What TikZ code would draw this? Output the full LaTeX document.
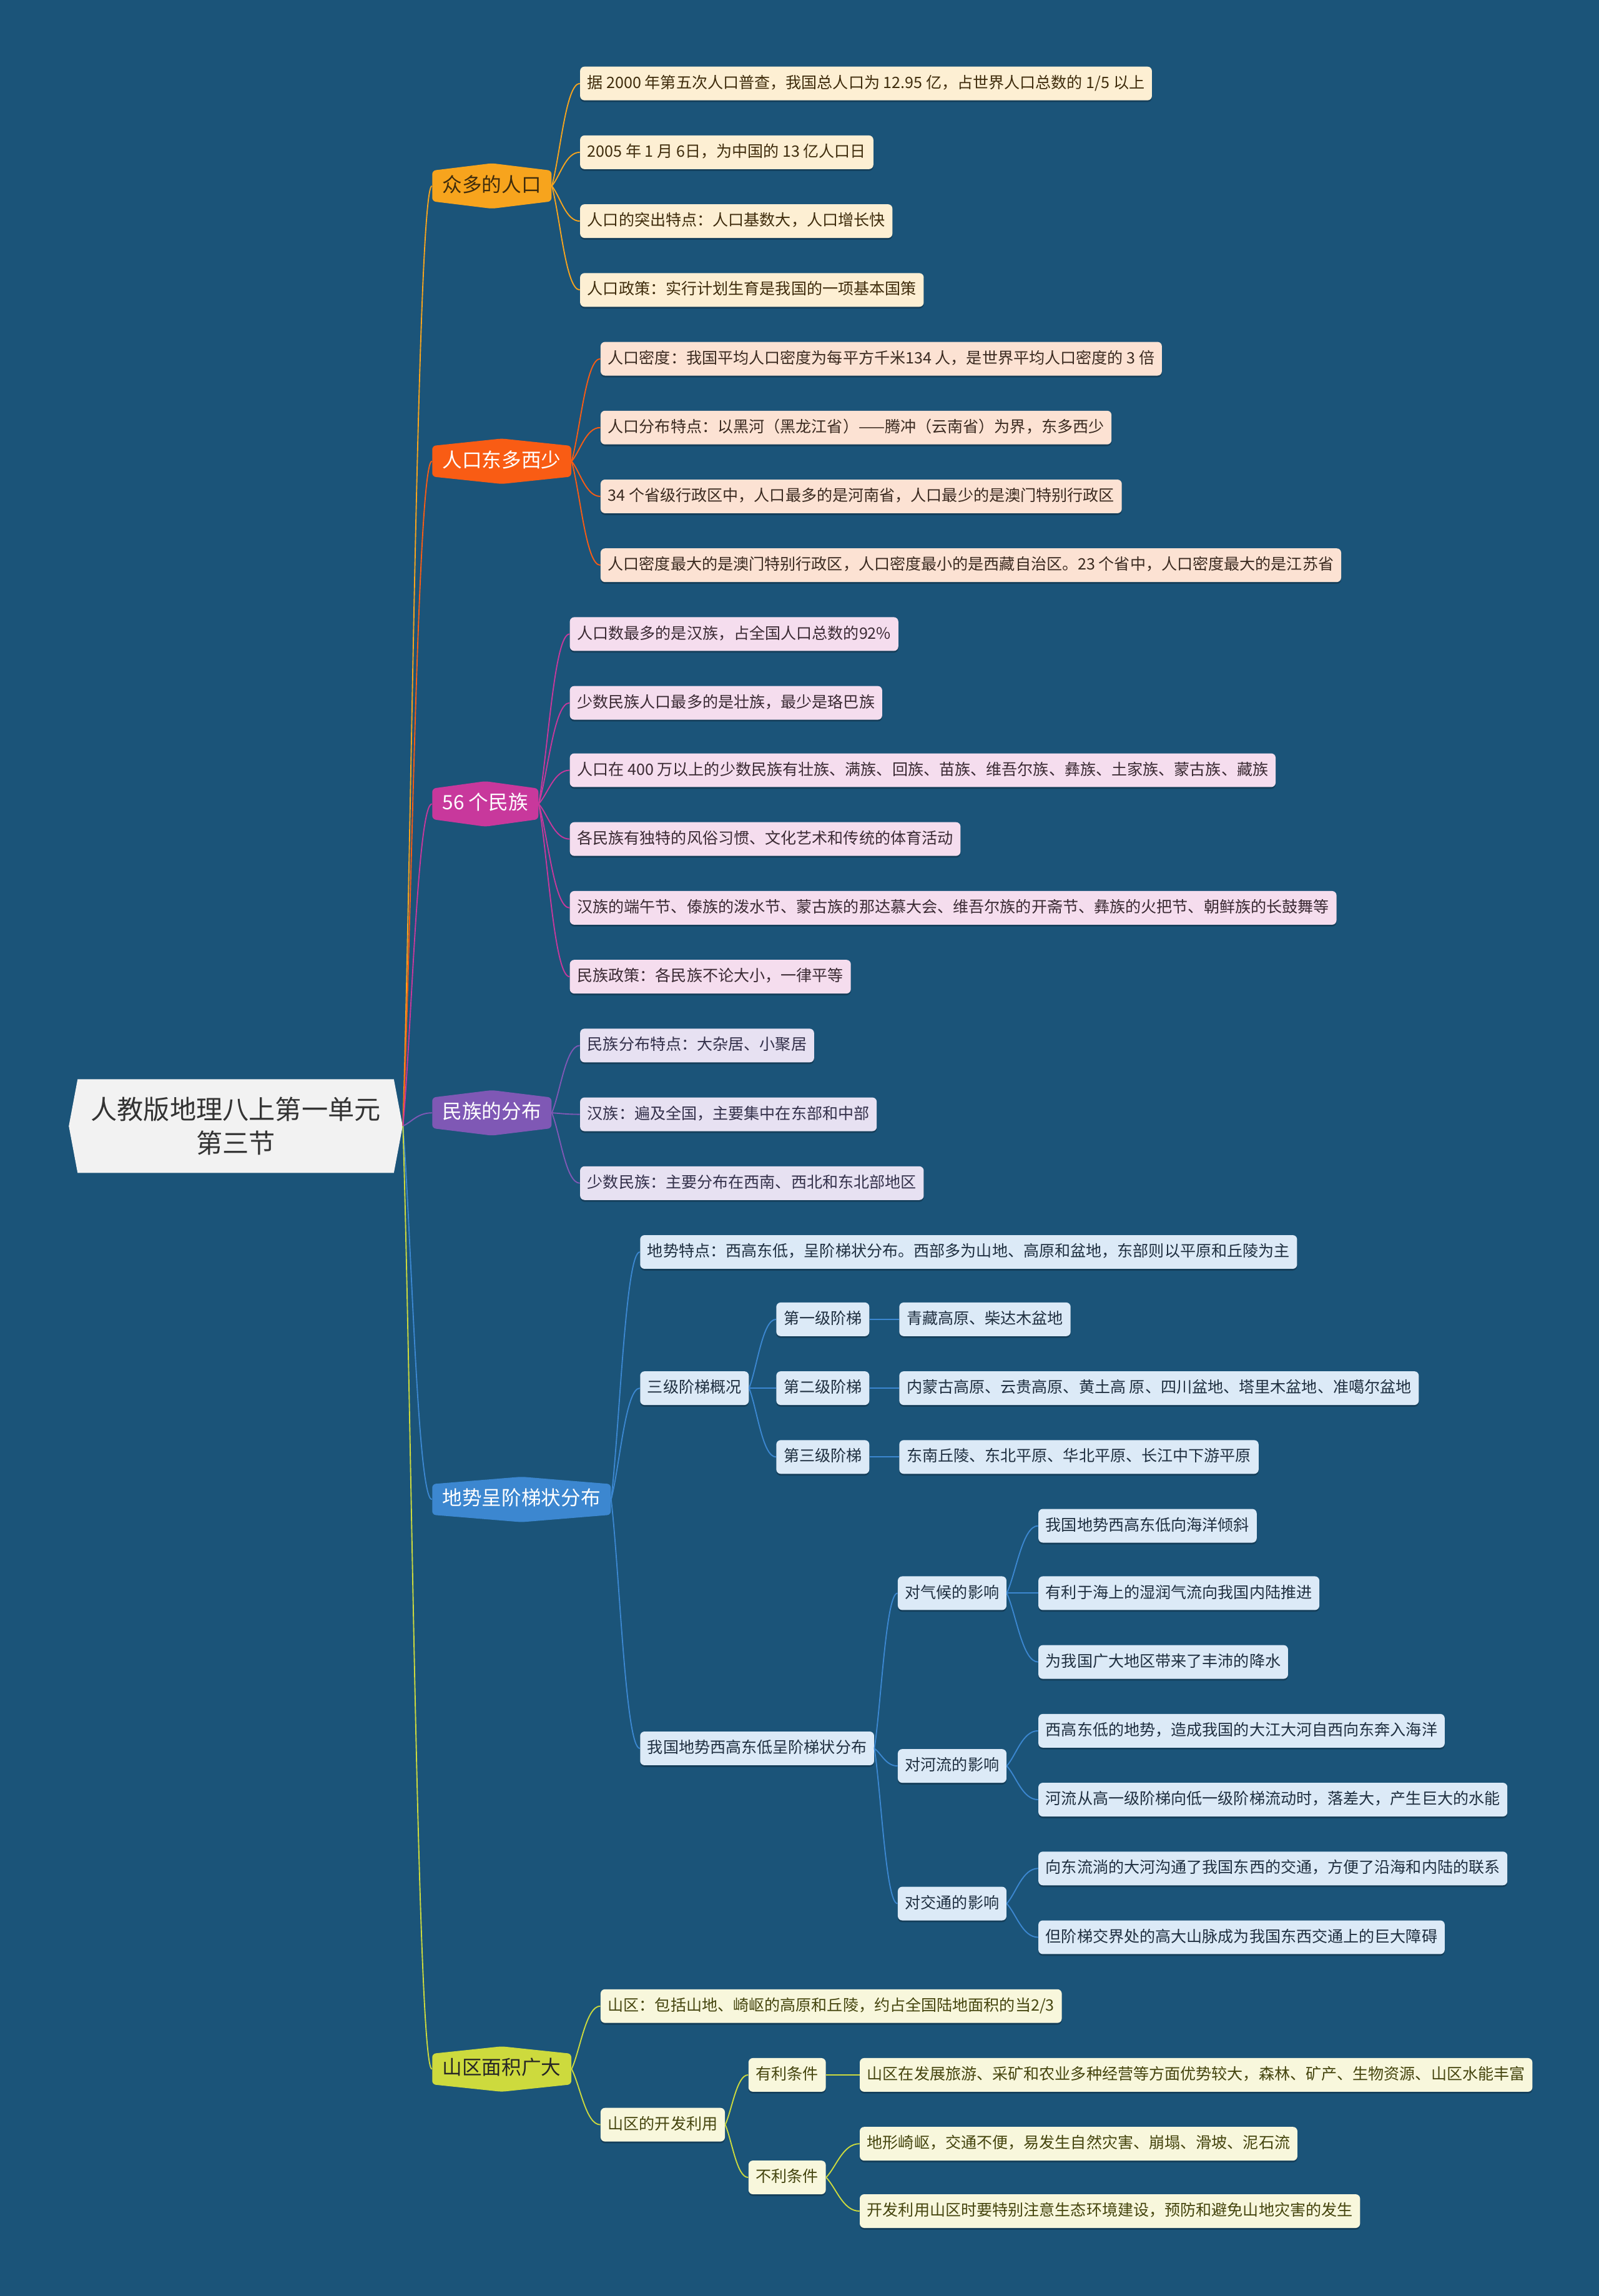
\documentclass[tikz,border=0pt]{standalone}
\usepackage{fontspec}
\setmainfont{Noto Sans CJK SC}
\usetikzlibrary{calc, shadows}
\definecolor{bgc}{HTML}{1B5479}
\definecolor{rootc}{HTML}{F2F2F2}
\definecolor{cA}{HTML}{F7A41D}\definecolor{lA}{HTML}{FDEFD3}\definecolor{tA}{HTML}{3F2C0C}
\definecolor{cB}{HTML}{F95C14}\definecolor{lB}{HTML}{FCE2D3}\definecolor{tB}{HTML}{3A2A20}
\definecolor{cC}{HTML}{C8389C}\definecolor{lC}{HTML}{F5DDEE}\definecolor{tC}{HTML}{3A2A33}
\definecolor{cD}{HTML}{7F58B5}\definecolor{lD}{HTML}{E7E1F2}\definecolor{tD}{HTML}{33304A}
\definecolor{cE}{HTML}{3C87D0}\definecolor{lE}{HTML}{DCEAF7}\definecolor{tE}{HTML}{1F2F40}
\definecolor{cF}{HTML}{CDDA3D}\definecolor{lF}{HTML}{F8F7DC}\definecolor{tF}{HTML}{45450E}

\begin{document}
\begin{tikzpicture}[x=1pt, y={(0,-1pt)},
  link/.style={to path={.. controls ($(\tikztostart)!0.3!(\tikztotarget)$) and ($(\tikztostart |- \tikztotarget)!0.5!(\tikztotarget)$) .. (\tikztotarget)}},
  leaf/.style={anchor=west, rounded corners=3pt, inner xsep=5pt, inner ysep=0pt, minimum height=23pt,
    text height=8.5pt, text depth=2pt, font=\fontsize{10.7}{12}\selectfont,
    drop shadow={shadow xshift=0pt, shadow yshift=-1.2pt, fill=black, opacity=.25}},
  hexa/.style={anchor=west, inner xsep=7pt, inner ysep=0pt, minimum height=31pt, text height=10.5pt, text depth=2.5pt,
    font=\fontsize{13.5}{15}\selectfont,
    path picture={\fill[#1, rounded corners=2.5pt] ([yshift=-5pt]path picture bounding box.north west)
      -- (path picture bounding box.north) -- ([yshift=-5pt]path picture bounding box.north east)
      -- ([yshift=5pt]path picture bounding box.south east) -- (path picture bounding box.south)
      -- ([yshift=5pt]path picture bounding box.south west) -- cycle;}},
  lfA/.style={leaf, fill=lA, text=tA}, lfB/.style={leaf, fill=lB, text=tB},
  lfC/.style={leaf, fill=lC, text=tC}, lfD/.style={leaf, fill=lD, text=tD},
  lfE/.style={leaf, fill=lE, text=tE}, lfF/.style={leaf, fill=lF, text=tF}]

\fill[bgc] (0,0) rectangle (1092,1568);
\useasboundingbox (0,0) rectangle (1092,1568);

\node[minimum width=228pt, minimum height=64pt, inner sep=0pt, align=center, text=black!80,
  font=\fontsize{18}{23}\selectfont,
  path picture={\fill[rootc] ([xshift=6pt]path picture bounding box.north west)
    -- ([xshift=-6pt]path picture bounding box.north east) -- (path picture bounding box.east)
    -- ([xshift=-6pt]path picture bounding box.south east) -- ([xshift=6pt]path picture bounding box.south west)
    -- (path picture bounding box.west) -- cycle;}] (root) at (161,769) {人教版地理八上第一单元\\第三节};

\node[hexa=cA, text=tA] (m1) at (295,127) {众多的人口};
\node[hexa=cB, text=white] (m2) at (295,315) {人口东多西少};
\node[hexa=cC, text=white] (m3) at (295,549) {56 个民族};
\node[hexa=cD, text=white] (m4) at (295,760) {民族的分布};
\node[hexa=cE, text=white] (m5) at (295,1024) {地势呈阶梯状分布};
\node[hexa=cF, text=black!85] (m6) at (295,1413) {山区面积广大};

\node[lfA] (a1) at (396,57) {据 2000 年第五次人口普查，我国总人口为 12.95 亿，占世界人口总数的 1/5 以上};
\node[lfA] (a2) at (396,104) {2005 年 1 月 6日，为中国的 13 亿人口日};
\node[lfA] (a3) at (396,151) {人口的突出特点：人口基数大，人口增长快};
\node[lfA] (a4) at (396,198) {人口政策：实行计划生育是我国的一项基本国策};

\node[lfB] (b1) at (410,245) {人口密度：我国平均人口密度为每平方千米134 人，是世界平均人口密度的 3 倍};
\node[lfB] (b2) at (410,292) {人口分布特点：以黑河（黑龙江省）——腾冲（云南省）为界，东多西少};
\node[lfB] (b3) at (410,339) {34 个省级行政区中，人口最多的是河南省，人口最少的是澳门特别行政区};
\node[lfB] (b4) at (410,386) {人口密度最大的是澳门特别行政区，人口密度最小的是西藏自治区。23 个省中，人口密度最大的是江苏省};

\node[lfC] (c1) at (389,433) {人口数最多的是汉族，占全国人口总数的92\%};
\node[lfC] (c2) at (389,480) {少数民族人口最多的是壮族，最少是珞巴族};
\node[lfC] (c3) at (389,526) {人口在 400 万以上的少数民族有壮族、满族、回族、苗族、维吾尔族、彝族、土家族、蒙古族、藏族};
\node[lfC] (c4) at (389,573) {各民族有独特的风俗习惯、文化艺术和传统的体育活动};
\node[lfC] (c5) at (389,620) {汉族的端午节、傣族的泼水节、蒙古族的那达慕大会、维吾尔族的开斋节、彝族的火把节、朝鲜族的长鼓舞等};
\node[lfC] (c6) at (389,667) {民族政策：各民族不论大小，一律平等};

\node[lfD] (d1) at (396,714) {民族分布特点：大杂居、小聚居};
\node[lfD] (d2) at (396,761) {汉族：遍及全国，主要集中在东部和中部};
\node[lfD] (d3) at (396,808) {少数民族：主要分布在西南、西北和东北部地区};

\node[lfE] (e1) at (437,855) {地势特点：西高东低，呈阶梯状分布。西部多为山地、高原和盆地，东部则以平原和丘陵为主};
\node[lfE] (e2) at (437,948) {三级阶梯概况};
\node[lfE] (e21) at (530,901) {第一级阶梯};
\node[lfE] (e22) at (530,948) {第二级阶梯};
\node[lfE] (e23) at (530,995) {第三级阶梯};
\node[lfE] (e21a) at (614,901) {青藏高原、柴达木盆地};
\node[lfE] (e22a) at (614,948) {内蒙古高原、云贵高原、黄土高 原、四川盆地、塔里木盆地、准噶尔盆地};
\node[lfE] (e23a) at (614,995) {东南丘陵、东北平原、华北平原、长江中下游平原};
\node[lfE] (e3) at (437,1194) {我国地势西高东低呈阶梯状分布};
\node[lfE] (e31) at (613,1088) {对气候的影响};
\node[lfE] (e32) at (613,1206) {对河流的影响};
\node[lfE] (e33) at (613,1300) {对交通的影响};
\node[lfE] (e31a) at (709,1042) {我国地势西高东低向海洋倾斜};
\node[lfE] (e31b) at (709,1088) {有利于海上的湿润气流向我国内陆推进};
\node[lfE] (e31c) at (709,1135) {为我国广大地区带来了丰沛的降水};
\node[lfE] (e32a) at (709,1182) {西高东低的地势，造成我国的大江大河自西向东奔入海洋};
\node[lfE] (e32b) at (709,1229) {河流从高一级阶梯向低一级阶梯流动时，落差大，产生巨大的水能};
\node[lfE] (e33a) at (709,1276) {向东流淌的大河沟通了我国东西的交通，方便了沿海和内陆的联系};
\node[lfE] (e33b) at (709,1323) {但阶梯交界处的高大山脉成为我国东西交通上的巨大障碍};

\node[lfF] (f1) at (410,1370) {山区：包括山地、崎岖的高原和丘陵，约占全国陆地面积的当2/3};
\node[lfF] (f2) at (410,1451) {山区的开发利用};
\node[lfF] (f21) at (511,1417) {有利条件};
\node[lfF] (f22) at (511,1487) {不利条件};
\node[lfF] (f21a) at (587,1417) {山区在发展旅游、采矿和农业多种经营等方面优势较大，森林、矿产、生物资源、山区水能丰富};
\node[lfF] (f22a) at (587,1464) {地形崎岖，交通不便，易发生自然灾害、崩塌、滑坡、泥石流};
\node[lfF] (f22b) at (587,1510) {开发利用山区时要特别注意生态环境建设，预防和避免山地灾害的发生};

\foreach \t/\c in {m1/cA, m2/cB, m3/cC, m4/cD, m5/cE, m6/cF}
  \draw[\c, line width=.8pt] (root.east) to[link] (\t.west);
\foreach \s/\t/\c in {m1/a1/cA, m1/a2/cA, m1/a3/cA, m1/a4/cA,
    m2/b1/cB, m2/b2/cB, m2/b3/cB, m2/b4/cB,
    m3/c1/cC, m3/c2/cC, m3/c3/cC, m3/c4/cC, m3/c5/cC, m3/c6/cC,
    m4/d1/cD, m4/d2/cD, m4/d3/cD,
    m5/e1/cE, m5/e2/cE, m5/e3/cE, e2/e21/cE, e2/e22/cE, e2/e23/cE,
    e21/e21a/cE, e22/e22a/cE, e23/e23a/cE, e3/e31/cE, e3/e32/cE, e3/e33/cE,
    e31/e31a/cE, e31/e31b/cE, e31/e31c/cE, e32/e32a/cE, e32/e32b/cE, e33/e33a/cE, e33/e33b/cE,
    m6/f1/cF, m6/f2/cF, f2/f21/cF, f2/f22/cF, f21/f21a/cF, f22/f22a/cF, f22/f22b/cF}
  \draw[\c, line width=.8pt] (\s.east) to[link] (\t.west);
\end{tikzpicture}
\end{document}
